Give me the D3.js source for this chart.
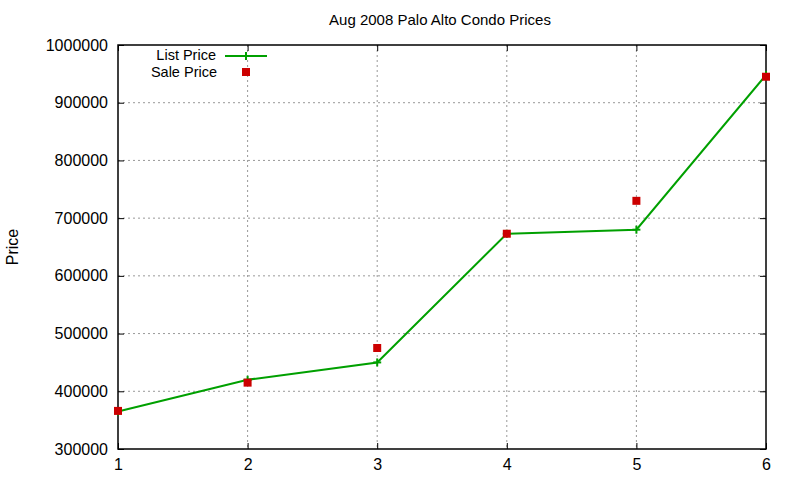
<!DOCTYPE html>
<html>
<head>
<meta charset="utf-8">
<script src="https://cdnjs.cloudflare.com/ajax/libs/d3/7.8.5/d3.min.js"></script>
<style>
  body { margin: 0; background: #fff; }
  svg { font-family: "Liberation Sans", Arial, sans-serif; }
</style>
</head>
<body>
<div id="chart"></div>
<script>

// Chart data
var points = [1, 2, 3, 4, 5, 6];
var listPrice = [365000, 420000, 450000, 673000, 680000, 948000];
var salePrice = [366000, 415000, 475000, 673000, 730000, 945000];
var yTicks = [300000, 400000, 500000, 600000, 700000, 800000, 900000, 1000000];
var xTicks = [1, 2, 3, 4, 5, 6];

var width = 800,
    height = 480,
    margin = {top: 45, right: 34, bottom: 31, left: 118};

var plotW = width - margin.left - margin.right,
    plotH = height - margin.top - margin.bottom;

var svg = d3.select("#chart").append("svg")
    .attr("width", width)
    .attr("height", height);

var g = svg.append("g")
    .attr("transform", "translate(" + margin.left + "," + margin.top + ")");

// Scales
var x = d3.scaleLinear().domain([1, 6]).range([0, plotW]);
var y = d3.scaleLinear().domain([300000, 1000000]).range([plotH, 0]);

// Grid lines
g.selectAll(".gridx")
    .data(xTicks.slice(1, -1))
    .enter().append("line")
    .attr("x1", function(d) { return x(d); })
    .attr("x2", function(d) { return x(d); })
    .attr("y1", 0)
    .attr("y2", plotH)
    .style("stroke", "#999")
    .style("stroke-dasharray", "2,3");

g.selectAll(".gridy")
    .data(yTicks.slice(1, -1))
    .enter().append("line")
    .attr("x1", 0)
    .attr("x2", plotW)
    .attr("y1", function(d) { return y(d); })
    .attr("y2", function(d) { return y(d); })
    .style("stroke", "#999")
    .style("stroke-dasharray", "2,3");

// Axes (ticks point inward, mirrored)
var yAxis = d3.axisLeft(y).tickValues(yTicks).tickSize(-6).tickPadding(10).tickFormat(d3.format("d"));
var yAxisR = d3.axisRight(y).tickValues(yTicks).tickSize(-6).tickFormat("");
var xAxis = d3.axisBottom(x).tickValues(xTicks).tickSize(-6).tickPadding(10).tickFormat(d3.format("d"));
var xAxisT = d3.axisTop(x).tickValues(xTicks).tickSize(-6).tickFormat("");

g.append("g").attr("class", "axis").call(yAxis);
g.append("g").attr("class", "axis").attr("transform", "translate(" + plotW + ",0)").call(yAxisR);
g.append("g").attr("class", "axis").attr("transform", "translate(0," + plotH + ")").call(xAxis);
g.append("g").attr("class", "axis").call(xAxisT);

g.selectAll(".axis path").remove();
g.selectAll(".axis line").style("stroke", "#000");
g.selectAll(".axis text")
    .style("font-size", "16px")
    .style("fill", "#000")
    .style("font-family", "Liberation Sans, Arial, sans-serif");

// Border
g.append("rect")
    .attr("width", plotW)
    .attr("height", plotH)
    .style("fill", "none")
    .style("stroke", "#000")
    .style("stroke-width", 1.5);

// List price line
var line = d3.line()
    .x(function(d, i) { return x(points[i]); })
    .y(function(d) { return y(d); });

g.append("path")
    .datum(listPrice)
    .attr("d", line)
    .style("fill", "none")
    .style("stroke", "#00a000")
    .style("stroke-width", 2);

// Plus markers
function plus(sel, size) {
    sel.append("line").attr("x1", -size).attr("x2", size).attr("y1", 0).attr("y2", 0);
    sel.append("line").attr("x1", 0).attr("x2", 0).attr("y1", -size).attr("y2", size);
    sel.selectAll("line").style("stroke", "#00a000").style("stroke-width", 2);
}

g.selectAll(".plus")
    .data(listPrice)
    .enter().append("g")
    .attr("class", "plus")
    .attr("transform", function(d, i) { return "translate(" + x(points[i]) + "," + y(d) + ")"; })
    .each(function() { plus(d3.select(this), 4); });

// Sale price squares
g.selectAll(".sale")
    .data(salePrice)
    .enter().append("rect")
    .attr("x", function(d, i) { return x(points[i]) - 4; })
    .attr("y", function(d) { return y(d) - 4; })
    .attr("width", 8)
    .attr("height", 8)
    .style("fill", "#cc0000");

// Legend
var legend = svg.append("g");

legend.append("text")
    .attr("x", 216).attr("y", 55).attr("dy", "0.35em")
    .style("text-anchor", "end").style("font-size", "14.5px")
    .text("List Price");
legend.append("line")
    .attr("x1", 225).attr("x2", 267).attr("y1", 56).attr("y2", 56)
    .style("stroke", "#00a000").style("stroke-width", 2);
legend.append("g")
    .attr("transform", "translate(246,56)")
    .call(plus, 4);

legend.append("text")
    .attr("x", 217).attr("y", 72).attr("dy", "0.35em")
    .style("text-anchor", "end").style("font-size", "14.5px")
    .text("Sale Price");
legend.append("rect")
    .attr("x", 242).attr("y", 68).attr("width", 8).attr("height", 8)
    .style("fill", "#cc0000");

// Title
svg.append("text")
    .attr("x", 440).attr("y", 20).attr("dy", "0.35em")
    .style("text-anchor", "middle").style("font-size", "15px")
    .text("Aug 2008 Palo Alto Condo Prices");

// Y label
svg.append("text")
    .attr("transform", "translate(12,247) rotate(-90)")
    .attr("dy", "0.35em")
    .style("text-anchor", "middle").style("font-size", "16px")
    .text("Price");

</script>
</body>
</html>
